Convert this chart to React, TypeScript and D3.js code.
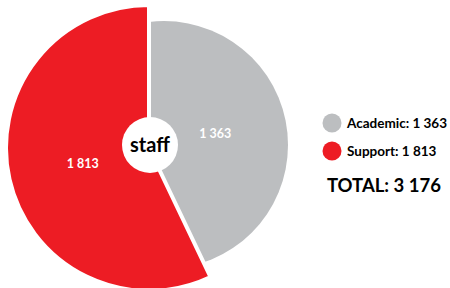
import React, { useEffect, useRef } from "react";
import * as d3 from "d3";

// staff split
const categories = ["Academic", "Support"];
const values = [1363, 1813];
const colors = ["#BCBEC0", "#ED1C24"];
const centerLabel = "staff";
const totalLabel = "TOTAL";

const width = 450;
const height = 288;

const App = () => {
  const svgRef = useRef<SVGSVGElement | null>(null);

  useEffect(() => {
    const svg = d3.select(svgRef.current);
    svg.selectAll("*").remove();

    const fmt = d3.formatLocale({ decimal: ".", thousands: " ", grouping: [3], currency: ["", ""] }).format(",d");
    const font = "Lato, 'Open Sans', sans-serif";

    const data = categories.map((c, i) => ({ name: c, value: values[i], color: colors[i] }));
    const total = d3.sum(values);

    const cx = 149;
    const cy = 148;
    const radius = 143;

    const pie = d3.pie<any>().sort(null).value((d) => d.value);
    const arcs = pie(data);

    const defs = svg.append("defs");
    const g = svg.append("g").attr("transform", `translate(${cx},${cy})`);

    // grey slice is pulled out a bit and drawn on its own circle, clipped to its wedge
    const wedge = d3.arc<any>().innerRadius(0).outerRadius(400);
    defs
      .append("clipPath")
      .attr("id", "greyWedge")
      .append("path")
      .attr("d", wedge(arcs[0]));

    g.append("circle")
      .attr("cx", 15)
      .attr("cy", -3)
      .attr("r", 124)
      .attr("fill", arcs[0].data.color)
      .attr("clip-path", "url(#greyWedge)");

    // red slice, white stroke makes the gap
    const arc = d3.arc<any>().innerRadius(0).outerRadius(radius);
    g.append("path")
      .attr("d", arc(arcs[1]))
      .attr("fill", arcs[1].data.color)
      .attr("stroke", "#fff")
      .attr("stroke-width", 4)
      .attr("stroke-linejoin", "miter");

    // value labels
    const labelArc = d3.arc<any>().innerRadius(68).outerRadius(68);
    g.selectAll(".val")
      .data(arcs)
      .enter()
      .append("text")
      .attr("class", "val")
      .attr("transform", (d) => {
        const [x, y] = labelArc.centroid(d);
        return `translate(${x},${y + 5})`;
      })
      .attr("text-anchor", "middle")
      .attr("font-family", font)
      .attr("font-weight", 700)
      .attr("font-size", 12.5)
      .attr("fill", "#fff")
      .text((d) => fmt(d.data.value));

    // center hole
    g.append("circle").attr("cx", 1).attr("cy", -3).attr("r", 28).attr("fill", "#fff");
    g.append("text")
      .attr("x", 1)
      .attr("y", 4)
      .attr("text-anchor", "middle")
      .attr("font-family", font)
      .attr("font-weight", 700)
      .attr("font-size", 20)
      .attr("fill", "#000")
      .text(centerLabel);

    // legend
    const legend = svg.append("g").attr("transform", "translate(332,123)");
    const item = legend
      .selectAll(".item")
      .data(data)
      .enter()
      .append("g")
      .attr("transform", (d, i) => `translate(0,${i * 28})`);
    item.append("circle").attr("r", 9.5).attr("fill", (d) => d.color);
    item
      .append("text")
      .attr("x", 15)
      .attr("y", 5)
      .attr("font-family", font)
      .attr("font-weight", 700)
      .attr("font-size", 13.5)
      .attr("fill", "#000")
      .text((d) => `${d.name}: ${fmt(d.value)}`);

    svg
      .append("text")
      .attr("x", 384)
      .attr("y", 192)
      .attr("text-anchor", "middle")
      .attr("font-family", font)
      .attr("font-weight", 700)
      .attr("font-size", 18.5)
      .attr("fill", "#000")
      .text(`${totalLabel}: ${fmt(total)}`);
  }, []);

  return (
    <svg
      ref={svgRef}
      width={width}
      height={height}
      style={{ position: "absolute", left: 0, top: 0, background: "#fff" }}
    />
  );
};

export default App;
